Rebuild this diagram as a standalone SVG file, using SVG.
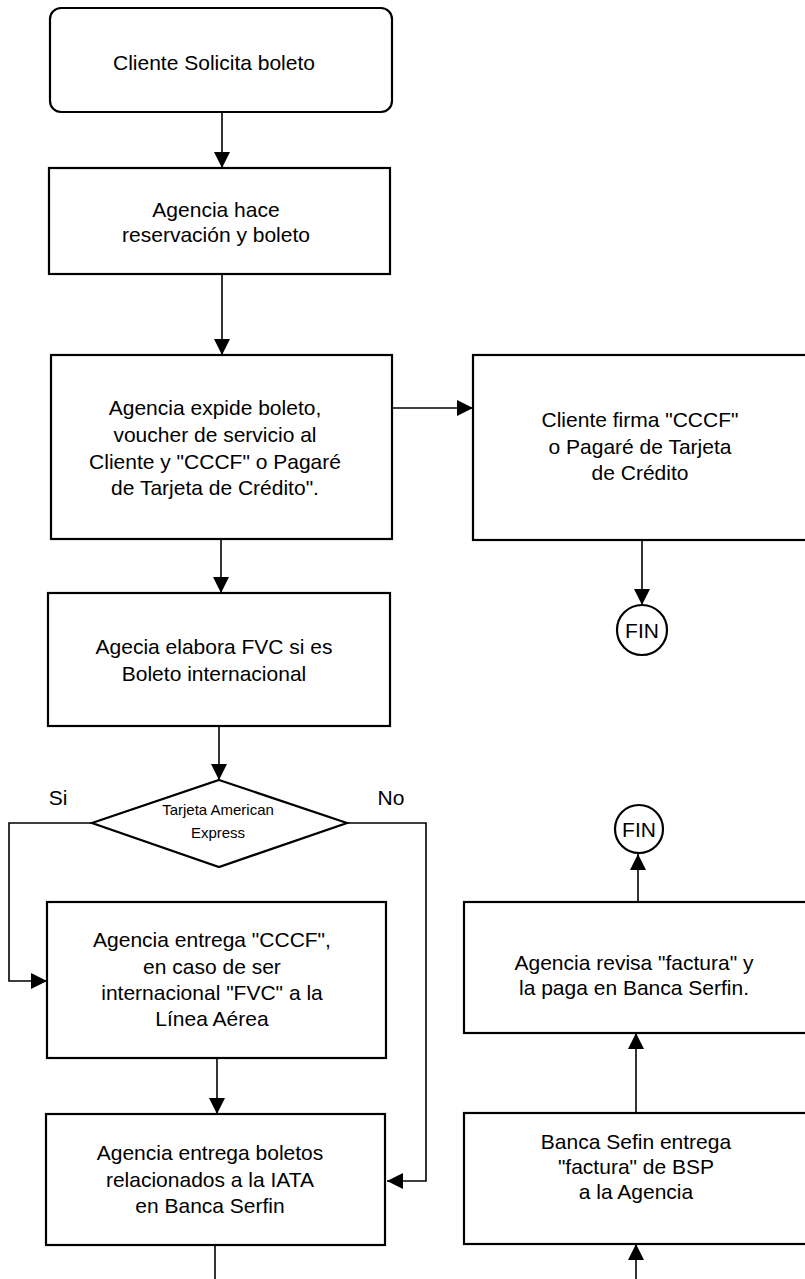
<svg xmlns="http://www.w3.org/2000/svg" width="805" height="1279" viewBox="0 0 805 1279">
<style>
.box{fill:#fff;stroke:#000;stroke-width:2.2}
.t{font-family:"Liberation Sans",Arial,sans-serif;font-size:21px;fill:#000;text-anchor:middle}
.s{font-family:"Liberation Sans",Arial,sans-serif;font-size:15px;fill:#000;text-anchor:middle}
.c{fill:none;stroke:#000;stroke-width:1.6}
</style>
<defs>
<marker id="ah" markerUnits="userSpaceOnUse" markerWidth="16" markerHeight="16" viewBox="0 0 16 16" refX="16" refY="8" orient="auto">
<path d="M0,0 L16,8 L0,16 Z" fill="#000"/>
</marker>
</defs>
<rect width="805" height="1279" fill="#fff"/>
<g id="connectors">
<line class="c" x1="222" y1="112" x2="222" y2="168" marker-end="url(#ah)"/>
<line class="c" x1="222" y1="274" x2="222" y2="355" marker-end="url(#ah)"/>
<line class="c" x1="392" y1="408" x2="473" y2="408" marker-end="url(#ah)"/>
<line class="c" x1="221" y1="539" x2="221" y2="593" marker-end="url(#ah)"/>
<line class="c" x1="642" y1="540" x2="642" y2="605" marker-end="url(#ah)"/>
<line class="c" x1="219" y1="726" x2="219" y2="780" marker-end="url(#ah)"/>
<polyline class="c" points="92,823 9,823 9,981 47,981" marker-end="url(#ah)"/>
<polyline class="c" points="347,823 426,823 426,1181 387,1181" marker-end="url(#ah)"/>
<line class="c" x1="217" y1="1058" x2="217" y2="1114" marker-end="url(#ah)"/>
<line class="c" x1="215" y1="1245" x2="215" y2="1279"/>
<line class="c" x1="636" y1="1279" x2="636" y2="1244" marker-end="url(#ah)"/>
<line class="c" x1="636" y1="1113" x2="636" y2="1033" marker-end="url(#ah)"/>
<line class="c" x1="638" y1="902" x2="638" y2="854" marker-end="url(#ah)"/>
<text class="t" x="58" y="805" font-size="20">Si</text>
<text class="t" x="391" y="805" font-size="20">No</text>
</g>
<g id="n1">
<rect class="box" x="50" y="8" width="342" height="104" rx="11"/>
<text class="t" x="214" y="70">Cliente Solicita boleto</text>
</g>
<g id="n2">
<rect class="box" x="49" y="168" width="341" height="106"/>
<text class="t" x="216" y="217">Agencia hace</text>
<text class="t" x="216" y="242">reservación y boleto</text>
</g>
<g id="n3">
<rect class="box" x="51" y="355" width="341" height="184"/>
<text class="t" x="215" y="415">Agencia expide boleto,</text>
<text class="t" x="215" y="442">voucher de servicio al</text>
<text class="t" x="215" y="469">Cliente y "CCCF" o Pagaré</text>
<text class="t" x="215" y="495">de Tarjeta de Crédito".</text>
</g>
<g id="n4">
<rect class="box" x="473" y="355" width="340" height="185"/>
<text class="t" x="640" y="427">Cliente firma "CCCF"</text>
<text class="t" x="640" y="454">o Pagaré de Tarjeta</text>
<text class="t" x="640" y="480">de Crédito</text>
</g>
<g id="fin1">
<circle class="box" cx="642" cy="630" r="25" stroke-width="1.8"/>
<text class="t" x="642" y="638">FIN</text>
</g>
<g id="n5">
<rect class="box" x="48" y="593" width="342" height="133"/>
<text class="t" x="214" y="654">Agecia elabora FVC si es</text>
<text class="t" x="214" y="681">Boleto internacional</text>
</g>
<g id="d1">
<polygon class="box" stroke-width="1.8" points="219,780 347,823 219,867 92,823"/>
<text class="s" x="218" y="815">Tarjeta American</text>
<text class="s" x="218" y="838">Express</text>
</g>
<g id="n6">
<rect class="box" x="47" y="902" width="339" height="156"/>
<text class="t" x="212" y="947">Agencia entrega "CCCF",</text>
<text class="t" x="212" y="974">en caso de ser</text>
<text class="t" x="212" y="1000">internacional "FVC" a la</text>
<text class="t" x="212" y="1026">Línea Aérea</text>
</g>
<g id="n7">
<rect class="box" x="46" y="1114" width="339" height="131"/>
<text class="t" x="210" y="1160">Agencia entrega boletos</text>
<text class="t" x="210" y="1187">relacionados a la IATA</text>
<text class="t" x="210" y="1213">en Banca Serfin</text>
</g>
<g id="fin2">
<circle class="box" cx="639" cy="829" r="24" stroke-width="1.8"/>
<text class="t" x="639" y="837">FIN</text>
</g>
<g id="n8">
<rect class="box" x="464" y="902" width="346" height="131"/>
<text class="t" x="634" y="970">Agencia revisa "factura" y</text>
<text class="t" x="634" y="995">la paga en Banca Serfin.</text>
</g>
<g id="n9">
<rect class="box" x="464" y="1113" width="346" height="131"/>
<text class="t" x="636" y="1149">Banca Sefin entrega</text>
<text class="t" x="636" y="1174">"factura" de BSP</text>
<text class="t" x="636" y="1199">a la Agencia</text>
</g>
</svg>
